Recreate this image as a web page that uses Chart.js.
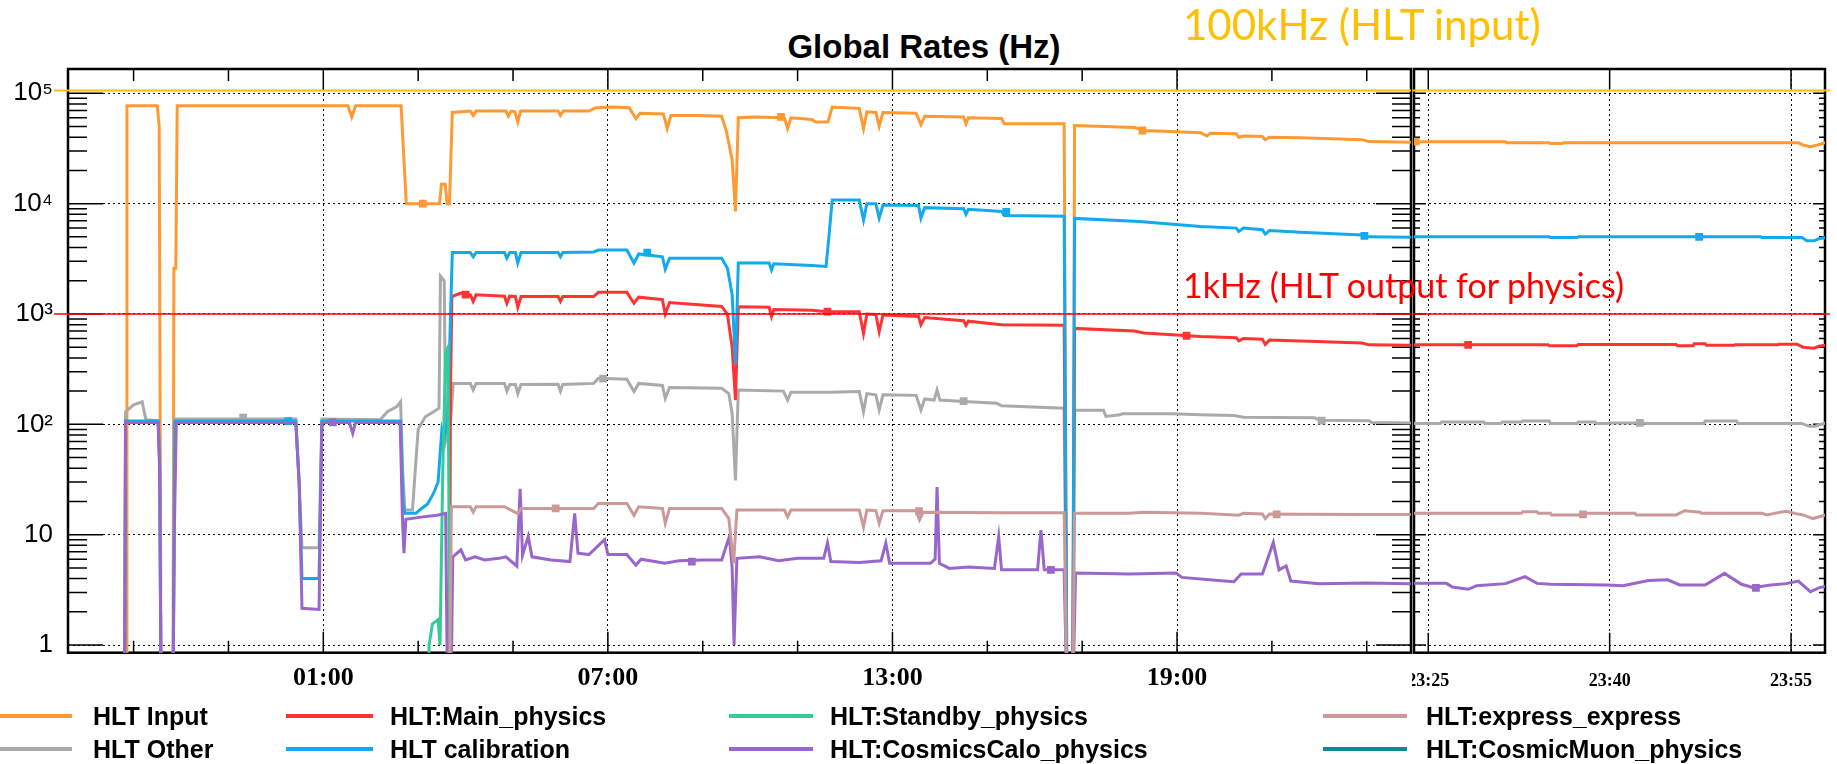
<!DOCTYPE html>
<html>
<head>
<meta charset="utf-8">
<script src="https://cdn.jsdelivr.net/npm/chart.js@4"></script>
<style>
  body { margin: 0; width: 1837px; height: 764px; background: #fff; position: relative; overflow: hidden;
         font-family: "Liberation Sans", Arial, sans-serif; }
  #leftBox { position: absolute; left: 0; top: 0; }
  #rightBox { position: absolute; left: 1412px; top: 0; }
  .title { position: absolute; left: 624px; width: 600px; top: 30px; text-align: center;
           font-weight: bold; font-size: 33px; line-height: 33px; color: #000; }
  .note { position: absolute; font-family: Lato, "Open Sans", sans-serif; white-space: nowrap; }
  .lg-line { position: absolute; height: 4px; }
  .lg-text { position: absolute; font-weight: bold; font-size: 25px; line-height: 25px; white-space: nowrap; color: #000; }
</style>
</head>
<body>
<div class="title">Global Rates (Hz)</div>
<div id="leftBox"><canvas id="leftChart" width="1414" height="764"></canvas></div>
<div id="rightBox"><canvas id="rightChart" width="425" height="764"></canvas></div>
<div class="note" style="left:1183px; top:3px; font-size:42px; line-height:42px; color:#ffc000;">100kHz (HLT input)</div>
<div class="note" style="left:1183px; top:268px; font-size:34px; line-height:34px; color:#ff0000;">1kHz (HLT output for physics)</div>
<div id="legend"></div>
<script>
// series, in legend order (column by column)
const seriesNames = ['HLT Input', 'HLT Other', 'HLT:Main_physics', 'HLT calibration',
  'HLT:Standby_physics', 'HLT:CosmicsCalo_physics', 'HLT:express_express', 'HLT:CosmicMuon_physics'];
const seriesColors = ['#ff9933', '#aaaaaa', '#ff3333', '#11aaee', '#33cc99', '#9966cc', '#cc9999', '#118899'];

// main panel: [hours since 00:00, rate in Hz]
const inputPts = [[-3.16,0.3],[-3.14,7.7e4],[-2.5,7.7e4],[-2.46,5e4],[-2.42,0.3],[-2.17,0.3],[-2.15,2.6e3],[-2.11,2.6e3],[-2.08,7.7e4],
  [1.52,7.7e4],[1.6,6.1e4],[1.68,7.7e4],[2.64,7.7e4],[2.7,2.5e4],[2.75,1.0e4],[3.45,1.0e4],[3.49,1.5e4],[3.57,1.5e4],[3.61,1.0e4],[3.66,1.0e4],[3.72,6.7e4],
  [4.1,6.9e4],[4.16,6.3e4],[4.22,6.9e4],[4.85,6.9e4],[4.9,6.2e4],[4.96,6.9e4],[5.04,6.8e4],[5.1,5.5e4],[5.16,6.9e4],[5.95,6.9e4],[6.0,6.3e4],[6.06,6.9e4],
  [6.6,6.9e4],[6.75,7.4e4],[7.1,7.5e4],[7.45,7.4e4],[7.59,5.9e4],[7.68,6.6e4],[8.17,6.5e4],[8.25,4.8e4],[8.33,6.3e4],[8.9,6.3e4],
  [9.4,6.2e4],[9.5,4.5e4],[9.62,2.5e4],[9.69,8.5e3],[9.75,6.0e4],[10.1,6.1e4],[10.72,6.0e4],[10.79,4.8e4],[10.86,6.0e4],[11.3,5.8e4],[11.38,5.5e4],[11.64,5.5e4],
  [11.73,7.5e4],[12.3,7.3e4],[12.39,4.8e4],[12.46,6.8e4],[12.65,6.7e4],[12.72,5.0e4],[12.8,6.7e4],[13.5,6.6e4],[13.6,5.2e4],[13.68,6.2e4],[14.5,6.1e4],[14.55,5.3e4],
  [14.6,6.0e4],[15.3,5.9e4],[15.36,5.3e4],[16.62,5.3e4],[16.68,0.3],[16.8,0.3],[16.84,5.1e4],[18.1,4.9e4],[18.3,4.6e4],[19.5,4.4e4],[19.63,4.1e4],[19.7,4.35e4],
  [20.25,4.3e4],[20.3,4.0e4],[20.4,4.1e4],[20.8,4.05e4],[20.86,3.8e4],[20.95,4.0e4],[21.6,3.95e4],[22.9,3.8e4],[23.05,3.65e4],[23.93,3.6e4]];
const otherPts = [[-3.19,0.3],[-3.17,130],[-3.0,150],[-2.82,160],[-2.74,110],[-2.49,108],[-2.45,50],[-2.42,0.3],[-2.17,0.3],[-2.13,112],
  [0.42,112],[0.49,30],[0.55,7.6],[0.91,7.6],[0.97,112],[2.2,110],[2.35,130],[2.55,145],[2.63,160],[2.67,40],[2.72,16.7],[2.88,16.7],[2.95,45],[3.0,90],
  [3.15,117],[3.3,128],[3.44,140],[3.47,2.2e3],[3.55,2.0e3],[3.58,70],[3.68,100],[3.74,235],
  [4.1,235],[4.16,205],[4.22,235],[4.82,235],[4.87,200],[4.93,230],[5.05,230],[5.1,190],[5.17,230],[5.95,231],[6.0,200],[6.05,230],[6.7,235],[6.8,261],
  [7.4,256],[7.55,198],[7.65,235],[8.15,225],[8.21,172],[8.3,216],[9.4,212],[9.55,190],[9.62,125],[9.69,31],[9.75,205],[10.7,200],[10.79,166],[10.86,195],
  [11.7,195],[12.3,198],[12.39,130],[12.46,190],[12.65,185],[12.72,135],[12.8,185],[13.5,183],[13.6,135],[13.68,170],[13.88,166],[13.94,205],[14.0,166],
  [14.5,161],[15.2,155],[15.3,147],[16.62,140],[16.68,0.3],[16.8,0.3],[16.84,134],[17.45,134],[17.5,118],[17.8,122],[17.85,125],[18.9,125],[19.5,122],
  [20.2,120],[20.4,116],[21.9,115],[22.0,109],[23.05,108],[23.1,104],[23.93,103]];
const mainPts = [[3.66,0.3],[3.68,170],[3.71,1.44e3],[3.9,1.55e3],[4.1,1.49e3],[4.16,1.3e3],[4.22,1.49e3],[4.82,1.45e3],[4.87,1.25e3],[4.93,1.45e3],
  [5.05,1.44e3],[5.1,1.15e3],[5.17,1.44e3],[5.95,1.44e3],[6.0,1.3e3],[6.05,1.44e3],[6.7,1.44e3],[6.8,1.57e3],[7.4,1.57e3],[7.55,1.25e3],[7.65,1.42e3],
  [8.15,1.35e3],[8.21,1.0e3],[8.3,1.27e3],[9.4,1.17e3],[9.52,1.0e3],[9.62,500],[9.69,166],[9.75,1.16e3],[10.4,1.15e3],[10.45,950],[10.5,1.1e3],[11.3,1.08e3],
  [11.6,1.05e3],[12.3,1.05e3],[12.39,667],[12.46,1.0e3],[12.65,990],[12.72,690],[12.8,980],[13.55,950],[13.6,800],[13.68,930],[14.5,870],[14.55,790],[14.6,860],
  [15.3,800],[16.62,790],[16.68,0.3],[16.8,0.3],[16.84,740],[18.1,700],[18.3,672],[19.5,625],[20.25,610],[20.3,570],[20.4,600],[20.8,590],[20.86,530],
  [20.95,580],[21.6,570],[22.9,545],[23.05,525],[23.93,520]];
const calibPts = [[-3.19,0.3],[-3.17,107],[-2.48,107],[-2.45,40],[-2.42,0.3],[-2.17,0.3],[-2.13,107],[0.42,107],[0.49,30],[0.55,4.0],[0.91,4.0],[0.97,107],
  [2.63,107],[2.68,20],[2.72,15.6],[2.95,15.6],[3.05,17],[3.2,19],[3.33,24],[3.42,30],[3.5,90],[3.55,75],[3.62,110],[3.68,900],[3.72,3.6e3],
  [4.1,3.6e3],[4.16,3.3e3],[4.22,3.6e3],[4.82,3.6e3],[4.87,3.2e3],[4.93,3.6e3],[5.05,3.6e3],[5.1,2.9e3],[5.17,3.6e3],[5.95,3.6e3],[6.0,3.3e3],[6.05,3.6e3],
  [6.7,3.65e3],[6.8,3.8e3],[7.4,3.8e3],[7.55,2.9e3],[7.65,3.5e3],[8.15,3.3e3],[8.21,2.55e3],[8.3,3.2e3],[9.4,3.2e3],[9.52,2.6e3],[9.62,1.5e3],[9.69,350],
  [9.75,2.9e3],[10.4,2.9e3],[10.45,2.5e3],[10.5,2.85e3],[11.3,2.75e3],[11.6,2.7e3],[11.66,5e3],[11.73,1.08e4],[12.3,1.08e4],[12.39,7.1e3],[12.46,1.0e4],
  [12.65,1.0e4],[12.72,7.4e3],[12.8,9.7e3],[13.55,9.6e3],[13.6,7.4e3],[13.68,9.2e3],[14.5,9.0e3],[14.55,8.0e3],[14.6,8.9e3],[15.3,8.5e3],[15.36,7.8e3],
  [16.62,7.7e3],[16.68,0.3],[16.8,0.3],[16.84,7.35e3],[18.2,6.9e3],[19.5,6.2e3],[20.25,6.0e3],[20.3,5.6e3],[20.4,6.0e3],[20.8,5.8e3],[20.86,5.3e3],
  [20.95,5.7e3],[21.6,5.5e3],[22.9,5.2e3],[23.05,5.0e3],[23.93,4.95e3]];
const standbyPts = [[3.2,0.3],[3.23,1.0],[3.3,1.55],[3.42,1.7],[3.46,1.0],[3.52,40],[3.58,450],[3.63,500],[3.67,0.3]];
const caloPts = [[-3.19,0.3],[-3.17,104],[-2.48,104],[-2.45,36],[-2.42,0.3],[-2.17,0.3],[-2.14,11],[-2.1,104],[0.42,104],[0.49,30],[0.55,2.15],[0.91,2.1],
  [0.97,104],[1.55,104],[1.62,83],[1.68,104],[2.62,104],[2.67,13.6],[2.7,6.8],[2.74,13.8],[3.1,14.5],[3.4,15],[3.58,15.6],[3.62,0.3],[3.69,0.3],[3.73,6.3],
  [3.9,7.3],[4.0,5.9],[4.2,6.3],[4.4,5.9],[4.7,6.1],[4.85,6.3],[5.08,5.2],[5.15,26],[5.2,6.5],[5.32,9.6],[5.4,6.3],[5.8,5.9],[6.2,5.7],[6.3,15.6],[6.37,6.8],
  [6.6,6.6],[6.93,9],[7.0,6.6],[7.4,6.6],[7.59,5.3],[7.7,6.0],[8.2,5.5],[8.5,5.8],[9.0,5.9],[9.4,5.9],[9.56,9.6],[9.62,5],[9.66,1.0],[9.72,6.1],[10.2,6.3],
  [10.6,5.8],[11.0,6.1],[11.55,6.1],[11.63,8.4],[11.7,5.7],[12.3,5.6],[12.76,5.8],[12.86,8.4],[12.94,5.5],[13.8,5.5],[13.9,6],[13.94,27],[13.99,5.5],
  [14.2,4.95],[14.6,5.1],[15.15,4.95],[15.24,9.6],[15.3,4.8],[16.06,4.8],[16.13,11],[16.2,4.8],[16.62,4.8],[16.68,0.3],[16.8,0.3],[16.86,4.5],[18.0,4.4],
  [18.98,4.5],[19.1,4.1],[20.0,3.8],[20.2,3.75],[20.35,4.4],[20.8,4.4],[21.03,8.5],[21.15,4.8],[21.3,5.2],[21.4,3.8],[22.0,3.6],[23.0,3.65],[23.93,3.6]];
const expressPts = [[3.66,0.3],[3.7,17.9],[4.1,17.9],[4.16,16],[4.22,17.9],[4.82,17.9],[5.1,15.5],[5.17,17.3],[6.7,17.3],[6.8,19.2],[7.4,19.2],[7.55,15],
  [7.65,17.9],[8.15,17.3],[8.21,12.7],[8.3,17.3],[9.4,17.3],[9.55,14],[9.65,5.5],[9.72,16.7],[10.72,16.7],[10.79,14.5],[10.86,16.7],[12.3,16.7],[12.39,11.8],
  [12.46,16.7],[12.65,16.5],[12.72,12.7],[12.8,16.5],[13.5,16.5],[13.57,13.6],[13.65,16],[15.3,15.8],[16.62,15.8],[16.68,0.3],[16.8,0.3],[16.84,15.6],
  [18.0,15.6],[18.3,16],[19.5,15.6],[20.3,15],[20.4,15.6],[20.8,15.4],[20.86,14],[20.95,15.4],[21.6,15.3],[22.9,15.2],[23.93,15.2]];
const muonPts = [];

// square markers that ROOT puts on each graph
const inputMarks = [[3.1,1.0e4],[10.65,6.1e4],[18.27,4.6e4]];
const otherMarks = [[-0.69,115],[6.9,260],[14.5,162],[22.05,108]];
const mainMarks = [[4.0,1.5e3],[11.63,1.05e3],[19.2,635]];
const calibMarks = [[0.26,107],[7.83,3.6e3],[15.4,8.4e3],[22.95,5.1e3]];
const standbyMarks = [];
const caloMarks = [[1.2,104],[8.77,5.7],[16.34,4.8]];
const expressMarks = [[5.9,17.3],[13.56,16.3],[21.1,15.3]];
const muonMarks = [];

// zoomed panel: [minutes after 23:00, rate in Hz]
const inputZoom = [[23.8,3.64e4],[31.4,3.64e4],[31.5,3.57e4],[35.0,3.57e4],[35.1,3.5e4],[36.1,3.5e4],[36.2,3.57e4],[55.6,3.57e4],[56.0,3.4e4],[56.6,3.28e4],[57.2,3.4e4],[57.85,3.57e4]];
const otherZoom = [[23.8,102],[26.0,102],[26.1,105],[29.6,105],[29.7,102],[31.0,102],[31.1,105],[32.7,105],[32.8,107],[35.0,107],[35.1,102],[37.3,102],[37.4,105],
  [38.8,105],[38.9,102],[39.8,102],[39.9,103],[42.5,103],[43.2,102],[47.8,102],[47.9,107],[50.5,107],[50.6,102],[55.9,102],[56.5,96],[57.0,96],[57.85,103]];
const mainZoom = [[23.8,525],[34.9,525],[35.0,515],[37.3,515],[37.4,530],[45.5,530],[45.6,515],[46.9,515],[47.0,537],[47.9,537],[48.0,520],[50.3,520],[50.4,527],
  [53.9,527],[54.0,532],[55.5,532],[56.0,500],[56.9,490],[57.3,510],[57.85,520]];
const calibZoom = [[23.8,5.0e3],[35.0,5.0e3],[35.1,4.93e3],[37.3,4.93e3],[37.4,5.0e3],[52.5,5.0e3],[52.6,4.93e3],[55.9,4.93e3],[56.3,4.6e3],[56.9,4.6e3],[57.3,4.8e3],[57.85,4.93e3]];
const standbyZoom = [];
const caloZoom = [[23.8,3.62],[26.5,3.62],[27.0,3.35],[28.3,3.2],[29.0,3.45],[31.4,3.6],[33.0,4.16],[34.0,3.62],[35.1,3.55],[39.8,3.5],[41.1,3.45],[43.2,3.85],
  [44.8,3.9],[45.8,3.5],[47.9,3.5],[49.5,4.46],[50.9,3.55],[51.9,3.3],[53.3,3.5],[54.6,3.6],[55.6,3.8],[56.6,3.04],[57.3,3.3],[57.85,3.4]];
const expressZoom = [[23.8,15.6],[32.7,15.6],[32.8,16.1],[34.0,16.1],[34.1,15.6],[35.1,15.6],[35.2,15.1],[37.7,15.1],[37.8,15.6],[42.1,15.6],[42.2,15.1],
  [45.5,15.1],[46.2,16.5],[47.5,16.0],[47.6,15.6],[52.6,15.6],[53.0,15.1],[53.6,15.6],[54.6,16.3],[55.3,15.6],[56.0,15.1],[56.8,14.0],[57.85,15.1]];
const muonZoom = [];

const inputZoomMarks = [[23.95,3.64e4]];
const otherZoomMarks = [[42.5,103]];
const mainZoomMarks = [[28.3,525]];
const calibZoomMarks = [[47.4,5.0e3]];
const caloZoomMarks = [[52.1,3.3]];
const expressZoomMarks = [[37.8,15.3]];

// reference levels drawn on the slide: HLT input limit and physics output
const refLevels = [1.06e5, 1000];
const refColors = ['#ffc000', '#ff0000'];

// ticks
const hourTicks = [-3, -1, 1, 3, 5, 7, 9, 11, 13, 15, 17, 19, 21, 23];
const hourLabels = [1, 7, 13, 19];
const minuteTicks = [25, 40, 55];
const decades = [1, 10, 100, 1000, 10000, 100000];
const decadeText = ['1', '10', '10²', '10³', '10⁴', '10⁵'];

const yTickVals = [];
for (let e = 0; e < 5; e++) for (let m = 1; m <= 9; m++) yTickVals.push(m * Math.pow(10, e));
yTickVals.push(100000);

function hourLabel(h) {
  const hh = ((h % 24) + 24) % 24;
  return String(hh).padStart(2, '0') + ':00';
}

// inward ROOT style ticks and frame
const frameTicks = {
  id: 'frameTicks',
  beforeDatasetsDraw(chart, args, o) {
    const { ctx, chartArea: a } = chart;
    const xs = chart.scales.x, ys = chart.scales.y;
    ctx.save();
    ctx.strokeStyle = '#000';
    ctx.lineWidth = 1.5;
    ctx.beginPath();
    xs.ticks.forEach(t => {
      const p = xs.getPixelForValue(t.value);
      const len = t.major ? o.xMajor : o.xMinor;
      ctx.moveTo(p, a.bottom); ctx.lineTo(p, a.bottom - len);
      ctx.moveTo(p, a.top); ctx.lineTo(p, a.top + len);
    });
    ys.ticks.forEach(t => {
      const p = ys.getPixelForValue(t.value);
      const len = t.major ? o.yMajor : o.yMinor;
      ctx.moveTo(a.left, p); ctx.lineTo(a.left + len, p);
      ctx.moveTo(a.right, p); ctx.lineTo(a.right - len, p);
    });
    ctx.stroke();
    ctx.lineWidth = 2.5;
    ctx.strokeRect(a.left, a.top, a.right - a.left, a.bottom - a.top);
    ctx.restore();
  }
};

function makeSets(list, marks) {
  const lines = list.map((pts, i) => ({
    label: seriesNames[i],
    data: pts.map(p => ({ x: p[0], y: p[1] })),
    borderColor: seriesColors[i],
    borderWidth: 3,
    pointRadius: 0,
    tension: 0,
    fill: false,
    order: 20 - i
  }));
  const squares = marks.map((pts, i) => ({
    label: seriesNames[i] + ' markers',
    data: pts.map(p => ({ x: p[0], y: p[1] })),
    showLine: false,
    pointStyle: 'rect',
    pointRadius: 5.5,
    pointBorderWidth: 0,
    pointBackgroundColor: seriesColors[i],
    borderColor: seriesColors[i],
    order: 20 - i
  }));
  return lines.concat(squares);
}
function refSets(x0, x1) {
  return refLevels.map((v, i) => ({
    label: 'ref' + i,
    data: [{ x: x0, y: v }, { x: x1, y: v }],
    borderColor: refColors[i],
    borderWidth: i === 0 ? 2 : 1.5,
    pointRadius: 0,
    clip: false,
    order: 0
  }));
}

const gridColor = c => (c.tick && c.tick.major) ? '#000' : 'rgba(0,0,0,0)';

function yAxis(width, showLabels) {
  return {
    type: 'logarithmic',
    min: 0.852,
    max: 1.66e5,
    afterBuildTicks: s => { s.ticks = yTickVals.map(v => ({ value: v, major: decades.includes(v) })); },
    afterFit: s => { s.width = width; },
    ticks: {
      display: showLabels,
      autoSkip: false,
      padding: 15,
      color: '#000',
      font: { family: '"Liberation Sans", "DejaVu Sans"', size: 26 },
      callback: v => { const k = decades.indexOf(v); return k >= 0 ? decadeText[k] : ''; }
    },
    grid: { drawTicks: false, color: gridColor, lineWidth: 1 },
    border: { display: false, dash: [2, 3] }
  };
}

function panel(id, sets, xMin, xMax, xTicks, isMajor, label, fontSize, pad, padLeft, padRight, yWidth, showY, tickOpts) {
  return new Chart(document.getElementById(id), {
    type: 'line',
    data: { datasets: sets },
    options: {
      responsive: false,
      animation: false,
      layout: { autoPadding: false, padding: { top: 69, bottom: 61.3, left: padLeft, right: padRight } },
      scales: {
        x: {
          type: 'linear',
          min: xMin,
          max: xMax,
          afterBuildTicks: s => { s.ticks = xTicks.map(v => ({ value: v, major: isMajor(v) })); },
          afterFit: s => { s.height = 50; s.paddingLeft = 0; s.paddingRight = 0; },
          ticks: {
            autoSkip: false,
            maxRotation: 0,
            padding: pad,
            color: '#000',
            font: { family: '"Liberation Serif", "DejaVu Serif", serif', weight: 'bold', size: fontSize },
            callback: v => isMajor(v) ? label(v) : ''
          },
          grid: { drawTicks: false, color: gridColor, lineWidth: 1 },
          border: { display: false, dash: [2, 3] }
        },
        y: yAxis(yWidth, showY)
      },
      plugins: {
        legend: { display: false },
        tooltip: { enabled: false },
        frameTicks: tickOpts
      }
    },
    plugins: [frameTicks]
  });
}

panel('leftChart',
  makeSets([inputPts, otherPts, mainPts, calibPts, standbyPts, caloPts, expressPts, muonPts],
           [inputMarks, otherMarks, mainMarks, calibMarks, standbyMarks, caloMarks, expressMarks, muonMarks]).concat(refSets(-4.68, 23.933)),
  -4.383, 23.933, hourTicks, v => hourLabels.includes(v), hourLabel, 26, 10, 0, 3, 68, true,
  { xMajor: 21, xMinor: 12, yMajor: 35, yMinor: 19 });

panel('rightChart',
  makeSets([inputZoom, otherZoom, mainZoom, calibZoom, standbyZoom, caloZoom, expressZoom, muonZoom],
           [inputZoomMarks, otherZoomMarks, mainZoomMarks, calibZoomMarks, [], caloZoomMarks, expressZoomMarks, []]).concat(refSets(23.7, 58.2)),
  23.82, 57.81, minuteTicks, v => true, v => '23:' + v, 18, 17.5, 2, 12, 0, false,
  { xMajor: 20, xMinor: 20, yMajor: 12, yMinor: 6 });

// legend, two rows by four columns
const legendCols = [{ line: 0, w: 72, text: 93 }, { line: 286, w: 87, text: 390 }, { line: 729, w: 84, text: 830 }, { line: 1323, w: 84, text: 1426 }];
const legendRows = [716, 749];
const lg = document.getElementById('legend');
seriesNames.forEach((name, i) => {
  const c = legendCols[Math.floor(i / 2)], r = legendRows[i % 2];
  const ln = document.createElement('div');
  ln.className = 'lg-line';
  ln.style.left = c.line + 'px'; ln.style.width = c.w + 'px'; ln.style.top = (r - 2) + 'px';
  ln.style.background = seriesColors[i];
  const tx = document.createElement('div');
  tx.className = 'lg-text';
  tx.style.left = c.text + 'px'; tx.style.top = (r - 12) + 'px';
  tx.textContent = name;
  lg.appendChild(ln); lg.appendChild(tx);
});
</script>
</body>
</html>
